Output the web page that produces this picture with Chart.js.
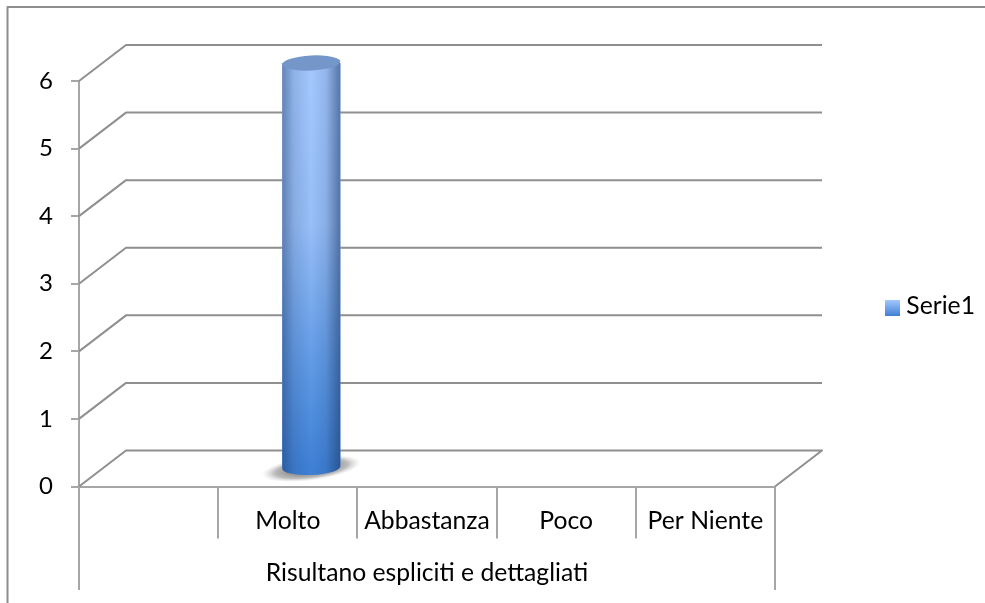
<!DOCTYPE html>
<html>
<head>
<meta charset="utf-8">
<style>html,body{margin:0;padding:0;background:#fff}#w{width:985px;height:603px;position:relative}</style>
<script src="https://cdn.jsdelivr.net/npm/chart.js@4"></script>
</head>
<body>
<div id="w"><canvas id="c" width="985" height="603"></canvas></div>
<script>
const categories = ["", "Molto", "Abbastanza", "Poco", "Per Niente"];
const seriesValues = [null, 6, 0, 0, 0];
const seriesName = "Serie1";
const groupLabel = "Risultano espliciti e dettagliati";

const FONT = "Lato";
const FS = 24.7;
const DX = 47, DY = 36;
const GRID = "#8f8f8f", AXIS = "#a6a6a6";

function line(ctx, pts, color, w) {
  ctx.save();
  ctx.strokeStyle = color; ctx.lineWidth = w; ctx.lineJoin = "round";
  ctx.beginPath();
  pts.forEach((p, i) => i ? ctx.lineTo(p[0], p[1]) : ctx.moveTo(p[0], p[1]));
  ctx.stroke();
  ctx.restore();
}
function barBody(ctx, x, y, base, rx, ry) {
  ctx.beginPath();
  ctx.moveTo(x - rx, y);
  ctx.lineTo(x - rx, base);
  ctx.ellipse(x, base, rx, ry, -0.04, Math.PI, 0, true);
  ctx.lineTo(x + rx, y);
  ctx.closePath();
}
function swatchGradient(ctx) {
  const g = ctx.createLinearGradient(0, 300, 0, 316);
  g.addColorStop(0, "#a4c8ff");
  g.addColorStop(1, "#3f7fd2");
  return g;
}

const wall3d = {
  id: "wall3d",
  afterLayout(chart) {
    const l = chart.legend;
    if (l) { const w = l.width, h = l.height; l.left = 885; l.right = 885 + w; l.top = 294; l.bottom = 294 + h; }
  },
  beforeDraw(chart) {
    const ctx = chart.ctx;
    line(ctx, [[985, 7], [7.5, 7], [7.5, 603]], "#8e8e8e", 2);
  },
  afterDraw(chart) {
    const ctx = chart.ctx;
    ctx.save();
    ctx.fillStyle = swatchGradient(ctx);
    ctx.fillRect(chart.legend.left, 300, 15, 16);
    ctx.restore();
  },
  beforeDatasetsDraw(chart) {
    const ctx = chart.ctx, a = chart.chartArea, ys = chart.scales.y;
    ys.ticks.forEach((t) => {
      const y = ys.getPixelForValue(t.value);
      const pts = [[a.left, y], [a.left + DX, y - DY], [a.right + DX, y - DY]];
      if (t.value === 0) pts.push([a.right, y]);
      line(ctx, pts, GRID, 2);
    });
    line(ctx, [[a.left, a.bottom], [a.left, 590]], AXIS, 2);
    line(ctx, [[a.right, a.bottom], [a.right, 590]], AXIS, 2);

    ctx.save();
    const meta = chart.getDatasetMeta(0);
    const bar = meta.data[1];
    const cx = bar.x + DX / 2, cy = ys.getPixelForValue(0) - DY / 2;
    ctx.translate(cx, cy);
    ctx.rotate(-0.13);
    ctx.scale(1, 0.24);
    const g = ctx.createRadialGradient(0, 0, 20, 0, 0, 50);
    g.addColorStop(0, "rgba(110,110,110,.8)");
    g.addColorStop(0.55, "rgba(130,130,130,.55)");
    g.addColorStop(1, "rgba(190,190,190,0)");
    ctx.fillStyle = g;
    ctx.beginPath(); ctx.arc(0, 0, 50, 0, Math.PI * 2); ctx.fill();
    ctx.restore();

    ctx.save();
    ctx.translate(DX / 2, -DY / 2);
  },
  afterDatasetsDraw(chart) {
    const ctx = chart.ctx;
    const meta = chart.getDatasetMeta(0);
    meta.data.forEach((el, i) => {
      if (!seriesValues[i]) return;
      const x = el.x, y = el.y, base = el.base, rx = el.width / 2, ry = 7.5;
      const vg = ctx.createLinearGradient(0, y, 0, base);
      vg.addColorStop(0, "#a4c8ff");
      vg.addColorStop(0.4, "#98bff8");
      vg.addColorStop(0.75, "#5f9ae6");
      vg.addColorStop(1, "#3f81d6");
      barBody(ctx, x, y, base, rx, ry);
      ctx.fillStyle = vg; ctx.fill();
      const hg = ctx.createLinearGradient(x - rx, 0, x + rx, 0);
      hg.addColorStop(0, "rgba(25,50,95,.45)");
      hg.addColorStop(0.2, "rgba(25,50,95,.15)");
      hg.addColorStop(0.5, "rgba(25,50,95,0)");
      hg.addColorStop(0.75, "rgba(25,50,95,.12)");
      hg.addColorStop(1, "rgba(25,50,95,.55)");
      barBody(ctx, x, y, base, rx, ry);
      ctx.fillStyle = hg; ctx.fill();
      ctx.beginPath();
      ctx.ellipse(x, y, rx, ry, -0.05, 0, Math.PI * 2);
      ctx.fillStyle = "#7596c8"; ctx.fill();
    });
    ctx.restore();
  }
};

const chart = new Chart(document.getElementById("c"), {
  type: "bar",
  data: {
    labels: categories,
    datasets: [{
      label: seriesName,
      data: seriesValues,
      backgroundColor: "#7fa8e6",
      borderWidth: 0,
      categoryPercentage: 1,
      barPercentage: 0.417,
      clip: false
    }]
  },
  plugins: [wall3d],
  options: {
    responsive: false,
    animation: false,
    events: [],
    layout: { padding: { top: 81, right: 110, bottom: 0, left: 0 } },
    plugins: {
      tooltip: { enabled: false },
      legend: {
        position: "right",
        align: "start",
        labels: {
          padding: 0,
          boxWidth: 9,
          boxHeight: 16,
          color: "#000",
          font: { family: FONT, size: FS },
          generateLabels() {
            return [{ text: seriesName, fillStyle: "rgba(0,0,0,0)", strokeStyle: "rgba(0,0,0,0)", lineWidth: 0, hidden: false, datasetIndex: 0 }];
          }
        }
      }
    },
    scales: {
      x: {
        afterFit(s) { s.height = 116.5; },
        grid: { offset: true, drawOnChartArea: false, drawTicks: true, tickLength: 52, color: AXIS, lineWidth: 2 },
        border: { color: AXIS, width: 2 },
        ticks: { autoSkip: false, maxRotation: 0, minRotation: 0, padding: -32, color: "#000", font: { family: FONT, size: FS } },
        title: { display: true, text: groupLabel, color: "#000", font: { family: FONT, size: FS }, padding: { top: 0, bottom: 15 } }
      },
      y: {
        min: 0, max: 6,
        afterFit(s) { s.width = 79; },
        grid: { drawOnChartArea: false, drawTicks: true, tickLength: 8, color: AXIS, lineWidth: 2 },
        border: { color: AXIS, width: 2 },
        ticks: { stepSize: 1, padding: 18, color: "#000", font: { family: FONT, size: 24 } }
      }
    }
  }
});
const a = chart.chartArea;
chart.options.layout.padding.right += a.right - 775;
chart.update("none");
</script>
</body>
</html>
